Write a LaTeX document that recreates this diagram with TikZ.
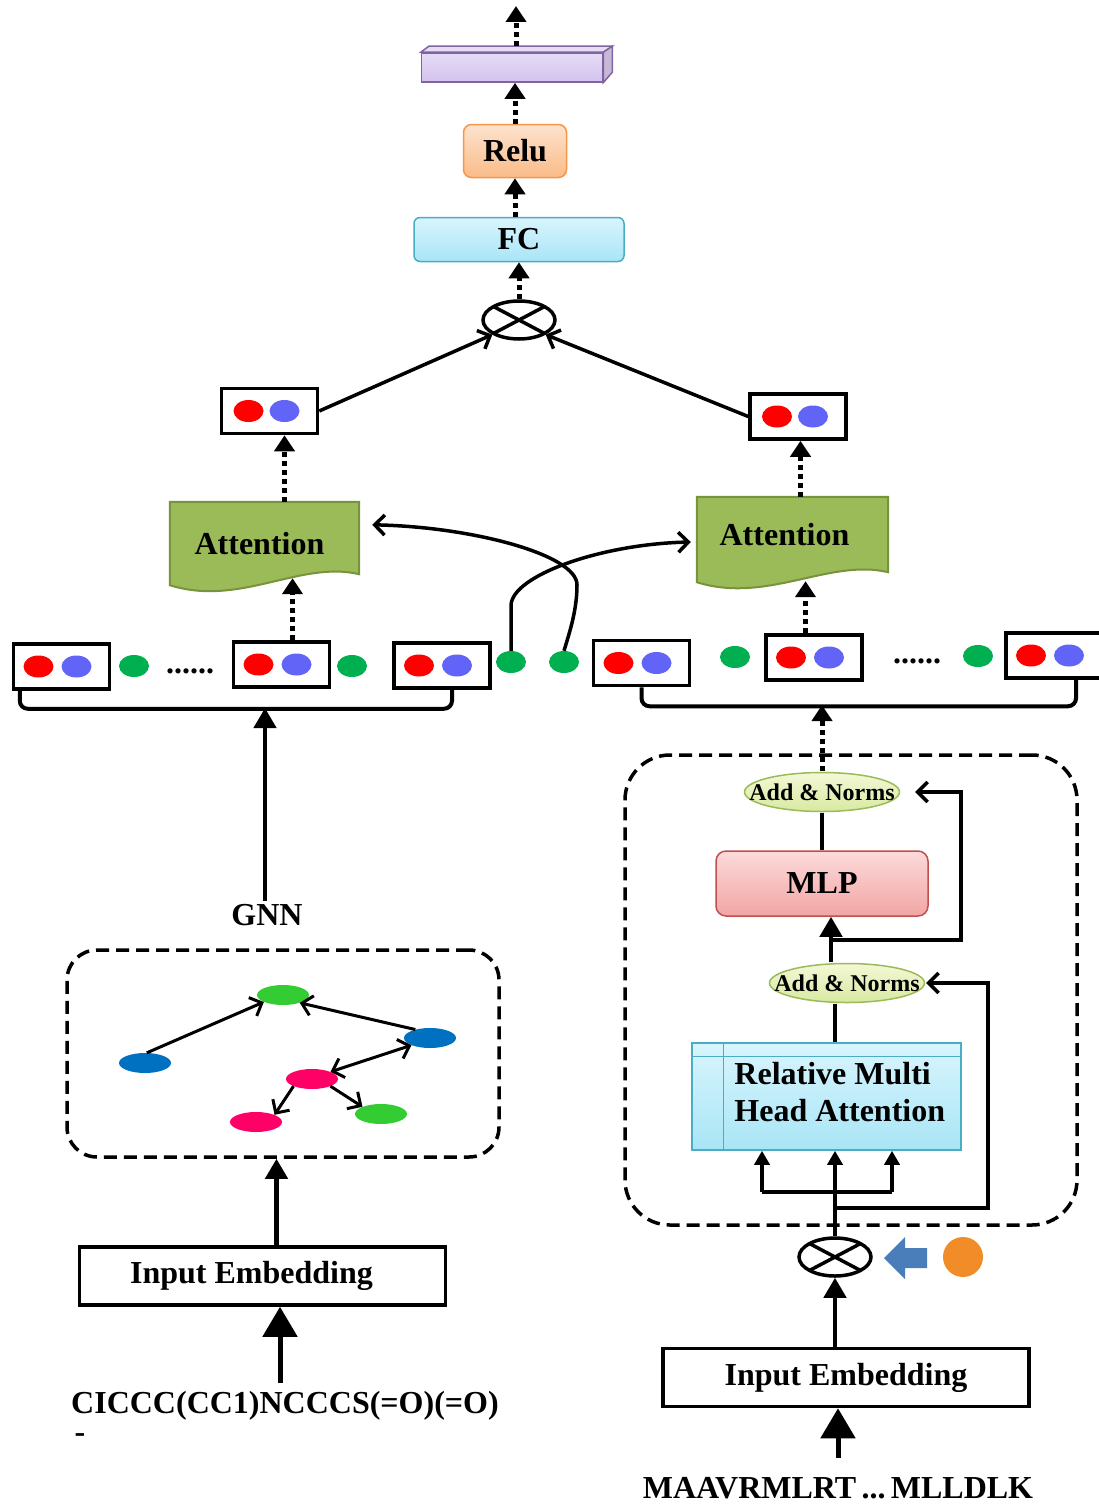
\documentclass[tikz,border=0pt]{standalone}
\usepackage{fontspec}
\setmainfont{Liberation Serif}
\usetikzlibrary{positioning,arrows.meta,calc,shapes.geometric}

\definecolor{dotred}{HTML}{FF0000}
\definecolor{dotblue}{HTML}{6164F6}
\definecolor{dotgreen}{HTML}{00B050}
\definecolor{gblue}{HTML}{0070C0}
\definecolor{ggreen}{HTML}{33CC33}
\definecolor{gpink}{HTML}{FF0066}
\definecolor{attfill}{HTML}{9BBB59}
\definecolor{attline}{HTML}{77933C}
\definecolor{fctop}{HTML}{D8F5FD}
\definecolor{fcbot}{HTML}{A9E5F6}
\definecolor{fcline}{HTML}{4BACC6}
\definecolor{relutop}{HTML}{FDE3CE}
\definecolor{relubot}{HTML}{FABB88}
\definecolor{reluline}{HTML}{F79646}
\definecolor{mlptop}{HTML}{FCDADA}
\definecolor{mlpbot}{HTML}{F2A5A5}
\definecolor{mlpline}{HTML}{C0504D}
\definecolor{antop}{HTML}{F4F8D8}
\definecolor{anbot}{HTML}{D8E9A0}
\definecolor{barfront}{HTML}{D3C2EE}
\definecolor{bartop}{HTML}{E6DCF6}
\definecolor{barline}{HTML}{8064A2}
\definecolor{shiftblue}{HTML}{4A7EBB}
\definecolor{posorange}{HTML}{F28C28}

\tikzset{
  cell/.style={draw,line width=3.5pt,minimum width=96pt,minimum height=45pt,inner sep=0pt},
  blob/.style={ellipse,inner sep=0pt,minimum width=30pt,minimum height=22pt,fill=#1},
  gvert/.style={ellipse,inner sep=0pt,minimum width=52pt,minimum height=20pt,fill=#1},
  dashbox/.style={draw,line width=3.5pt,dash pattern=on 13pt off 7pt,inner sep=0pt},
  embbox/.style={draw,line width=3.5pt,inner sep=0pt,minimum width=366pt,minimum height=58pt},
  otimes/.style={ellipse,draw,line width=3.5pt,inner sep=0pt,minimum width=72pt,minimum height=38pt,
    path picture={\draw[line width=3.5pt] (path picture bounding box.north west) -- (path picture bounding box.south east)
      (path picture bounding box.south west) -- (path picture bounding box.north east);}},
  addnorm/.style={inner sep=0pt,minimum width=158pt,minimum height=41pt,font=\fontsize{24}{28}\selectfont\bfseries,
    path picture={\draw[attfill,line width=1.5pt,top color=antop,bottom color=anbot]
      (path picture bounding box.center) ellipse [x radius=77.5pt,y radius=19.5pt];}},
  attshape/.style={draw=attline,line width=2pt,fill=attfill},
  dotarrow/.style={line width=5pt,dash pattern=on 5pt off 4pt,-{Triangle[length=16pt,width=20pt]}},
  bigarrow/.style={line width=5pt,-{Triangle[length=30pt,width=34pt]}},
  midarrow/.style={line width=4.5pt,-{Triangle[length=20pt,width=22pt]}},
  smallarrow/.style={line width=3.5pt,-{Triangle[length=14pt,width=15pt]}},
  barb/.style={line width=3.5pt,-{Straight Barb[length=10pt,width=20pt]}},
  link/.style={line width=3.5pt},
  brace/.style={line width=4pt,rounded corners=8pt},
}

\begin{document}
\begin{tikzpicture}[x=1pt,y=-1pt,font=\fontsize{32}{37}\selectfont\bfseries]
\useasboundingbox[fill=white] (0,0) rectangle (1099,1504);

% output head
\node[draw=barline,line width=1.5pt,top color=bartop,bottom color=barfront,minimum width=181pt,minimum height=29pt,inner sep=0pt] (outvec) at (512,67.5) {};
\draw[barline,line width=1.5pt,fill=bartop] (outvec.north west) -- ++(8,-6) -- ($(outvec.north east)+(9,-6)$) -- (outvec.north east) -- cycle;
\draw[barline,line width=1.5pt,fill=barline!45] (outvec.north east) -- ++(9,-6) -- ++(0,26) -- (outvec.south east) -- cycle;
\coordinate (outtop) at (516,6);
\draw[dotarrow] ($(outvec.north)+(4,-6)$) -- (outtop);
\node[draw=reluline,line width=1.5pt,rounded corners=8pt,top color=relutop,bottom color=relubot,minimum width=103pt,minimum height=53pt,inner sep=0pt] (relu) at (515,151) {Relu};
\draw[dotarrow] (relu.north) -- (relu.north |- outvec.south);
\node[draw=fcline,line width=1.5pt,rounded corners=6pt,top color=fctop,bottom color=fcbot,minimum width=210pt,minimum height=44pt,inner sep=0pt] (fc) at (519,239.5) {FC};
\draw[dotarrow] (fc.north -| relu) -- (relu.south);
\node[otimes] (prod) at (519,320) {};
\draw[dotarrow] (prod.north) -- (prod.north |- fc.south);

% pooled vectors
\node[cell] (poolL) at (269.5,411) {};
\node[cell] (poolR) at (798,416.5) {};
\foreach \c in {poolL,poolR} {
  \node[blob=dotred] (\c-r) at ($(\c)+(-21,0)$) {};
  \node[blob=dotblue] (\c-b) at ($(\c)+(15,0)$) {};
}
\draw[barb] (poolL.east) -- (prod.south west);
\draw[barb] (poolR.west) -- (prod.south east);

% attention blocks
\node[minimum width=189pt,minimum height=90pt,inner sep=0pt] (attL) at (264.5,547) {};
\draw[attshape] (attL.north west) -- (attL.north east) -- ($(attL.south east)+(0,-18)$)
  .. controls +(-59,-14) and +(70,22) .. ($(attL.south west)+(0,-7)$) -- cycle;
\node (attLtxt) at ($(attL)+(-5,-3)$) {Attention};
\node[minimum width=191pt,minimum height=90pt,inner sep=0pt] (attR) at (792.5,542) {};
\draw[attshape] (attR.north west) -- (attR.north east) -- ($(attR.south east)+(0,-15)$)
  .. controls +(-59,-14) and +(70,22) .. ($(attR.south west)+(0,-5)$) -- cycle;
\node (attRtxt) at ($(attR)+(-8,-7)$) {Attention};
\draw[dotarrow] ([xshift=20pt]attL.north) -- ([xshift=20pt]attL.north |- poolL.south);
\draw[dotarrow] ([xshift=8pt]attR.north) -- ([xshift=8pt]attR.north |- poolR.south);

% token rows
\foreach \n/\x/\y in {c1/61.5/666.5, c2/281.5/664.5, c3/442/665.5, c4/641.5/663, c5/814/657.5, c6/1054/655.5} {
  \node[cell] (\n) at (\x,\y) {};
  \node[blob=dotred] (\n-r) at ($(\n)+(-23,0)$) {};
  \node[blob=dotblue] (\n-b) at ($(\n)+(15,0)$) {};
}
\foreach \n/\x/\y in {g1/134/666, g2/352/666, g3/511/662, g4/564/662, g5/735/657, g6/978/656}
  \node[blob=dotgreen] (\n) at (\x,\y) {};
\node[anchor=base] (gapL) at (190,673) {......};
\node[anchor=base] (gapR) at (917,663) {......};
\draw[brace] ([xshift=8pt]c1.south west) -- ++(0,18) -| ([xshift=10pt]c3.south);
\draw[brace] (c4.south) -- ++(0,19) -| ([xshift=22pt]c6.south);
\coordinate (joinL) at (265,708);
\coordinate (joinR) at (822,705);

% cross links
\coordinate (attLin) at ($(attL.north east)+(13,23)$);
\draw[barb] (g3.north) -- ++(0,-45) .. controls +(0,-30) and +(-90,2) .. ([xshift=-6pt]attR.west);
\draw[barb] (g4.north) .. controls +(6,-20) and +(0,25) .. ++(13,-66) .. controls +(0,-30) and +(100,2) .. (attLin);
\coordinate (attLbot) at ($(attL.south)+(28,-14)$);
\coordinate (attRbot) at ($(attR.south)+(13,-6)$);
\draw[dotarrow] ([xshift=11pt]c2.north) -- (attLbot);
\draw[dotarrow] ([xshift=-8.5pt]c5.north) -- (attRbot);

% graph branch
\node (gnn) at (267,915) {GNN};
\draw[midarrow] (gnn.north -| joinL) -- (joinL);
\node[dashbox,rounded corners=30pt,minimum width=432pt,minimum height=207pt] (gbox) at (283,1053.5) {};
\begin{scope}[>={Straight Barb[length=10pt,width=20pt]}]
\node[gvert=ggreen] (v1) at (283,995) {};
\node[gvert=gblue] (v2) at (145,1063) {};
\node[gvert=gblue] (v3) at (430,1038) {};
\node[gvert=gpink] (v4) at (312,1079) {};
\node[gvert=gpink] (v5) at (256,1122) {};
\node[gvert=ggreen] (v6) at (381,1114) {};
\draw[->,line width=3pt] (v2.80) -- (v1.200);
\draw[->,line width=3pt] (v3.150) -- (v1.-25);
\draw[<->,line width=3pt] (v4.north east) -- (v3.south west);
\draw[->,line width=3pt] (v4.south west) -- (v5.north east);
\draw[->,line width=3pt] (v4.south east) -- (v6.north west);
\end{scope}
\node[embbox] (embL) at (262.5,1276) {};
\node (embLtxt) at ($(embL)+(-11,0)$) {Input Embedding};
\draw[midarrow] ([xshift=14pt]embL.north) -- ([xshift=14pt]embL.north |- gbox.south);
\node[inner sep=0pt] (smiles) at (285,1406) {CICCC(CC1)NCCCS(=O)(=O)};
\draw[bigarrow,shorten <=8pt] ([xshift=-5pt]smiles.north) -- ([xshift=-5pt]smiles.north |- embL.south);
\node[inner sep=0pt] (smtail) at (80,1438) {-};

% sequence branch
\node[dashbox,rounded corners=45pt,minimum width=452pt,minimum height=470pt] (tbox) at (851,990) {};
\node[addnorm] (an1) at (822,792) {Add \& Norms};
\draw[dotarrow] (an1.north) -- (joinR);
\node[draw=mlpline,line width=1.5pt,rounded corners=10pt,top color=mlptop,bottom color=mlpbot,minimum width=212pt,minimum height=65pt,inner sep=0pt] (mlp) at (822,883.5) {MLP};
\node[addnorm] (an2) at (847,983) {Add \& Norms};
\node[draw=fcline,line width=1.5pt,top color=fctop,bottom color=fcbot,minimum width=269pt,minimum height=107pt,inner sep=0pt] (rmha) at (826.5,1096.5) {};
\draw[fcline,line width=1.5pt] ($(rmha.north west)+(0,14)$) -- ($(rmha.north east)+(0,14)$)
  ($(rmha.north west)+(32,0)$) -- ($(rmha.south west)+(32,0)$);
\node[anchor=west,align=left,inner sep=0pt] (rmhatxt) at ($(rmha.west)+(43,-4)$) {Relative Multi\\Head Attention};
\node[otimes] (prod2) at (835,1257) {};
\coordinate (split1) at (831,940);
\coordinate (split2) at (835,1192);
\coordinate (split3) at (835,1208);
\coordinate (hl) at (762,1192);
\coordinate (hr) at (892,1192);
\draw[link] (an1.south) -- (mlp.north);
\draw[midarrow] (split1 |- an2.north) -- (split1 |- mlp.south);
\draw[barb,shorten >=14pt] (split1) -| ($(an1.east)+(60,0)$) -- (an1.east);
\draw[link] (split2 |- an2.south) -- (split2 |- rmha.north);
\draw[smallarrow] (prod2.north) -- (prod2.north |- rmha.south);
\draw[link] (hl) -- (hr);
\draw[smallarrow] (hl) -- (hl |- rmha.south);
\draw[smallarrow] (hr) -- (hr |- rmha.south);
\draw[barb] (split3) -| ($(an2.east)+(62,0)$) -- (an2.east);
\fill[shiftblue] (884,1258) -- (905,1237) -- (905,1248) -- (927,1248) -- (927,1268) -- (905,1268) -- (905,1279) -- cycle;
\node[circle,inner sep=0pt,minimum size=40pt,fill=posorange] (pos) at (963,1257) {};
\node[embbox] (embR) at (846,1377.5) {Input Embedding};
\draw[midarrow] (embR.north -| prod2) -- (prod2.south);
\node (seq) at (838,1488) {MAAVRMLRT\,...\,MLLDLK};
\draw[bigarrow,shorten <=16pt] (seq.north) -- (seq.north |- embR.south);
\end{tikzpicture}
\end{document}
